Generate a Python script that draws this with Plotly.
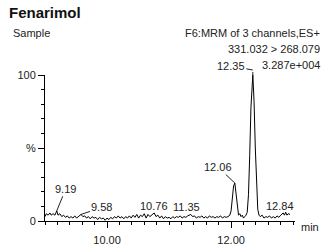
import plotly.graph_objects as go

# Retention time (min) and relative intensity (%)
times = [9.00, 9.02, 9.05, 9.08, 9.10, 9.13, 9.16, 9.19, 9.21, 9.24, 9.27, 9.30, 9.33, 9.36, 9.39,
         9.42, 9.45, 9.48, 9.51, 9.54, 9.58, 9.61, 9.64, 9.67, 9.70, 9.73, 9.76, 9.79, 9.82, 9.85,
         9.88, 9.91, 9.94, 9.97, 10.00, 10.03, 10.06, 10.09, 10.12, 10.15, 10.18, 10.21, 10.24, 10.27,
         10.30, 10.33, 10.36, 10.39, 10.42, 10.45, 10.48, 10.51, 10.54, 10.57, 10.60, 10.63, 10.66,
         10.69, 10.72, 10.76, 10.79, 10.82, 10.85, 10.88, 10.91, 10.94, 10.97, 11.00, 11.03, 11.06,
         11.09, 11.12, 11.15, 11.18, 11.21, 11.24, 11.27, 11.30, 11.35, 11.38, 11.41, 11.44, 11.47,
         11.50, 11.53, 11.56, 11.59, 11.62, 11.65, 11.68, 11.71, 11.74, 11.77, 11.80, 11.83, 11.86,
         11.89, 11.92, 11.95, 11.98, 12.00, 12.02, 12.04, 12.06, 12.08, 12.10, 12.12, 12.14, 12.16,
         12.18, 12.20, 12.22, 12.24, 12.26, 12.28, 12.30, 12.32, 12.35, 12.37, 12.39, 12.41, 12.43,
         12.45, 12.47, 12.50, 12.53, 12.56, 12.59, 12.62, 12.65, 12.68, 12.71, 12.74, 12.77, 12.80,
         12.84, 12.86, 12.88, 12.90, 12.92, 12.95]
intensity = [3, 5, 4, 5.5, 4, 5, 4, 7, 4, 5, 3, 4, 2.5, 3.5, 2,
             3, 2, 3.5, 2, 3, 4.5, 3, 3.5, 2, 3, 1.5, 3, 2, 2.5, 1,
             2.5, 1.5, 2, 0.5, 2, 1, 2.5, 1.5, 3, 2, 3.5, 2, 3, 1.5,
             3, 2, 3.5, 2, 4, 2.5, 4.5, 2, 4, 3, 5, 2, 4.5,
             3, 4, 5.5, 3, 4, 2, 3.5, 1.5, 3, 2, 2.5, 1.5, 3,
             2, 3, 2.5, 3.5, 2, 3, 2.5, 3.5, 4.5, 3, 3.5, 2, 3,
             2.5, 3.5, 2, 3, 2, 3.5, 2.5, 3, 2, 3, 2.5, 3.5, 2,
             3, 2.5, 3, 4, 7, 15, 24, 26, 18, 8, 4, 5, 3,
             4, 2, 3, 4, 6, 18, 45, 78, 100, 82, 50, 22, 8,
             4, 3, 4, 2, 3, 2.5, 3.5, 2, 3, 2, 3.5, 2.5, 4,
             5.5, 4, 6, 4, 5, 4.5]

# Peak labels
peak_times = [9.19, 9.58, 10.76, 11.35, 12.06, 12.35, 12.84]
peak_heights = [7, 4.5, 5.5, 4.5, 26, 100, 5.5]
peak_labels = ["9.19", "9.58", "10.76", "11.35", "12.06", "12.35", "12.84"]

compound = "Fenarimol"
sample = "Sample"
header_lines = ["F6:MRM of 3 channels,ES+", "331.032 > 268.079"]
peak_area = "3.287e+004"

FONT = "Liberation Sans, Arial, sans-serif"
TXT = "#222222"

fig = go.Figure()
fig.add_trace(go.Scatter(x=times, y=intensity, mode="lines",
                         line=dict(color="black", width=1), cliponaxis=False,
                         hoverinfo="skip"))

# label placement: (mode, ax, ay, yshift)
placements = [("arrow", 9, -22, 0), ("arrow", 21, -7, 0), ("text", 0, 0, 0), ("text", -4, 0, 0),
              ("arrow", -17, -16, 0), ("apex", -22, -4, 5), ("text", -3, 0, 0)]
for t, h, lab, (mode, ax, ay, ys) in zip(peak_times, peak_heights, peak_labels, placements):
    if mode == "arrow":
        fig.add_annotation(x=t, y=h, text=lab, showarrow=True, arrowhead=0,
                           arrowwidth=1, arrowcolor="#222", ax=ax, ay=ay,
                           font=dict(size=11, color=TXT, family=FONT))
    elif mode == "apex":
        # short vertical stem above the apex, then a diagonal leader to the label
        fig.add_annotation(x=t, y=h, text=" ", showarrow=True, arrowhead=0,
                           arrowwidth=1, arrowcolor="#222", ax=0, ay=-ys,
                           font=dict(size=1, color=TXT, family=FONT))
        fig.add_annotation(x=t, y=h, text=lab, showarrow=True, arrowhead=0,
                           arrowwidth=1, arrowcolor="#222", ax=ax, ay=ay, yshift=ys,
                           font=dict(size=11, color=TXT, family=FONT))
    else:
        fig.add_annotation(x=t, y=h, text=lab, showarrow=False, yanchor="bottom",
                           xshift=ax, yshift=-1,
                           font=dict(size=11, color=TXT, family=FONT))

# header texts
fig.add_annotation(xref="paper", yref="paper", x=0, y=1, xanchor="left", yanchor="middle",
                   xshift=-38, yshift=63, text="<b>%s</b>" % compound, showarrow=False,
                   font=dict(size=15, color="#111", family=FONT))
fig.add_annotation(xref="paper", yref="paper", x=0, y=1, xanchor="left", yanchor="middle",
                   xshift=-34, yshift=42, text=sample, showarrow=False,
                   font=dict(size=11, color=TXT, family=FONT))
for i, line in enumerate(header_lines):
    fig.add_annotation(xref="paper", yref="paper", x=1, y=1, xanchor="right", yanchor="middle",
                       xshift=27, yshift=42 - 16 * i, text=line, showarrow=False,
                       font=dict(size=11, color=TXT, family=FONT))
fig.add_annotation(xref="paper", yref="paper", x=1, y=1, xanchor="right", yanchor="middle",
                   xshift=27, yshift=10, text=peak_area, showarrow=False,
                   font=dict(size=11, color=TXT, family=FONT))
fig.add_annotation(xref="paper", yref="paper", x=1, y=0, xanchor="left", yanchor="middle",
                   xshift=4, yshift=-6, text="min", showarrow=False,
                   font=dict(size=11, color=TXT, family=FONT))

fig.update_layout(
    width=324, height=251,
    margin=dict(l=45, r=29, t=75, b=30, autoexpand=False),
    paper_bgcolor="white", plot_bgcolor="white",
    showlegend=False,
    xaxis=dict(range=[9.0, 13.03], showgrid=False, zeroline=False, automargin=False,
               showline=True, linecolor="black", linewidth=1,
               tickmode="array", tickvals=[10, 12], ticktext=["10.00", "12.00"],
               ticks="outside", ticklen=6, tickcolor="black", tickwidth=1,
               ticklabelstandoff=3,
               tickfont=dict(size=11, color=TXT, family=FONT),
               minor=dict(dtick=0.2, tick0=9.0, ticks="outside", ticklen=3,
                          tickcolor="black", tickwidth=1, showgrid=False)),
    yaxis=dict(range=[0, 100], showgrid=False, zeroline=False, automargin=False,
               showline=True, linecolor="black", linewidth=1,
               tickmode="array", tickvals=[0, 50, 100], ticktext=["0", "%", "100"],
               ticks="outside", ticklen=6, tickcolor="black", tickwidth=1,
               tickfont=dict(size=11, color=TXT, family=FONT),
               minor=dict(dtick=10, tick0=0, ticks="outside", ticklen=3,
                          tickcolor="black", tickwidth=1, showgrid=False)),
)

fig.write_html("out.html", config={"displayModeBar": False},
               post_script="document.body.style.margin='0';document.body.style.overflow='hidden';")
